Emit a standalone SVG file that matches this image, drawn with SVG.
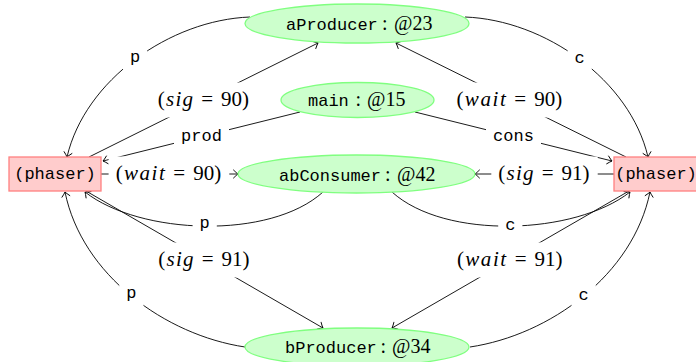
<svg xmlns="http://www.w3.org/2000/svg" width="696" height="362" viewBox="0 0 696 362">
<style>
.ell{fill:#ccffcc;stroke:#80ff80;stroke-width:1.3}
.box{fill:#ffcccc;stroke:#ff8080;stroke-width:1.3}
.tt{font-family:"Liberation Mono","DejaVu Sans Mono",monospace;font-size:17px;fill:#000}
.rm{font-family:"Liberation Serif","DejaVu Serif",serif;font-size:20px;fill:#000}
.lm{font-family:"Liberation Serif","DejaVu Serif",serif;font-size:21px;fill:#000}
.it{font-style:italic}
.e{fill:none;stroke:#000;stroke-width:0.9;marker-end:url(#to)}
.lb{fill:#fff;stroke:none}
</style>
<defs>
<marker id="to" markerUnits="userSpaceOnUse" markerWidth="12" markerHeight="12" refX="0" refY="0" viewBox="-6 -6 12 12" orient="auto" overflow="visible">
<path d="M -4.5,-4 Q -1.5,-1 0,0 Q -1.5,1 -4.5,4" fill="none" stroke="#000" stroke-width="0.9" stroke-linecap="round"/>
</marker>
</defs>
<g id="connectors">
<path class="e" d="M 250,17 C 170,20 85,80 67,157"/>
<path class="e" d="M 465,17 C 545,20 630,80 648,157"/>
<path class="e" d="M 89,157 L 318,43"/>
<path class="e" d="M 626,157 L 396,43"/>
<path class="e" d="M 300,112 L 103,161"/>
<path class="e" d="M 415,112 L 612,161"/>
<path class="e" d="M 101,174 L 238,174"/>
<path class="e" d="M 614,174 L 475,174"/>
<path class="e" d="M 323,192 C 270,240 140,235 85,192"/>
<path class="e" d="M 392,192 C 445,240 575,235 630,192"/>
<path class="e" d="M 86,191 L 323,328"/>
<path class="e" d="M 629,191 L 392,328"/>
<path class="e" d="M 245,347 C 165,335 82,275 65,192"/>
<path class="e" d="M 470,347 C 550,335 633,275 650,192"/>
<g id="edge-labels">
<rect class="lb" x="123" y="46" width="24.2" height="26.7"/>
<text class="tt" x="135.2" y="61.5" text-anchor="middle">p</text>
<rect class="lb" x="567.6" y="48" width="24.2" height="22.4"/>
<text class="tt" x="579.7" y="63.4" text-anchor="middle">c</text>
<rect class="lb" x="151" y="82.5" width="106.4" height="35"/>
<text class="lm" y="105.5"><tspan x="157.8">(</tspan><tspan class="it" x="166" textLength="27" lengthAdjust="spacing">sig</tspan><tspan x="201.2">=</tspan><tspan x="221">90</tspan><tspan x="242">)</tspan></text>
<rect class="lb" x="449.6" y="82.5" width="120.7" height="35"/>
<text class="lm" y="105.5"><tspan x="456.6">(</tspan><tspan class="it" x="464.8" textLength="41" lengthAdjust="spacing">wait</tspan><tspan x="514.3">=</tspan><tspan x="534.2">90</tspan><tspan x="555.2">)</tspan></text>
<rect class="lb" x="174" y="122" width="55" height="30"/>
<text class="tt" x="201.5" y="141" text-anchor="middle">prod</text>
<rect class="lb" x="486" y="126" width="55" height="22.4"/>
<text class="tt" x="513.5" y="141.2" text-anchor="middle">cons</text>
<rect class="lb" x="108.6" y="156.5" width="120.7" height="35"/>
<text class="lm" y="179.5"><tspan x="115.7">(</tspan><tspan class="it" x="123.9" textLength="41" lengthAdjust="spacing">wait</tspan><tspan x="173.3">=</tspan><tspan x="193.2">90</tspan><tspan x="214.2">)</tspan></text>
<rect class="lb" x="491.3" y="156.5" width="106.4" height="35"/>
<text class="lm" y="179.5"><tspan x="498.3">(</tspan><tspan class="it" x="506.5" textLength="27" lengthAdjust="spacing">sig</tspan><tspan x="541.7">=</tspan><tspan x="561.4">91</tspan><tspan x="582.4">)</tspan></text>
<rect class="lb" x="192.6" y="213" width="24.2" height="26.7"/>
<text class="tt" x="204.7" y="228.3" text-anchor="middle">p</text>
<rect class="lb" x="498.2" y="215" width="24.2" height="22.4"/>
<text class="tt" x="510.3" y="230.4" text-anchor="middle">c</text>
<rect class="lb" x="151.3" y="242.5" width="106.4" height="35"/>
<text class="lm" y="265.5"><tspan x="158.3">(</tspan><tspan class="it" x="166.5" textLength="27" lengthAdjust="spacing">sig</tspan><tspan x="201.7">=</tspan><tspan x="221.5">91</tspan><tspan x="242.5">)</tspan></text>
<rect class="lb" x="450" y="242.5" width="120.7" height="35"/>
<text class="lm" y="265.5"><tspan x="457">(</tspan><tspan class="it" x="465.2" textLength="41" lengthAdjust="spacing">wait</tspan><tspan x="514.7">=</tspan><tspan x="534.6">91</tspan><tspan x="555.6">)</tspan></text>
<rect class="lb" x="119.3" y="282.8" width="24.2" height="26.7"/>
<text class="tt" x="131.4" y="298.2" text-anchor="middle">p</text>
<rect class="lb" x="571.5" y="284.9" width="24.2" height="22.4"/>
<text class="tt" x="583.6" y="300.3" text-anchor="middle">c</text>
</g>
</g>
<g id="aProducer">
<ellipse class="ell" cx="357" cy="23.5" rx="112" ry="19.5"/>
<text x="286" y="29.5"><tspan class="tt">aProducer</tspan><tspan class="rm" x="382">:</tspan><tspan class="rm" x="394">@23</tspan></text>
</g>
<g id="main">
<ellipse class="ell" cx="357.5" cy="100" rx="76.5" ry="17.5"/>
<text x="308" y="105.5"><tspan class="tt">main</tspan><tspan class="rm" x="355.5">:</tspan><tspan class="rm" x="367">@15</tspan></text>
</g>
<g id="abConsumer">
<ellipse class="ell" cx="356.5" cy="174" rx="118.5" ry="19"/>
<text x="279" y="180.5"><tspan class="tt">abConsumer</tspan><tspan class="rm" x="385">:</tspan><tspan class="rm" x="397">@42</tspan></text>
</g>
<g id="bProducer">
<ellipse class="ell" cx="357" cy="347" rx="112" ry="19"/>
<text x="285" y="353"><tspan class="tt">bProducer</tspan><tspan class="rm" x="380.5">:</tspan><tspan class="rm" x="392">@34</tspan></text>
</g>
<g id="phaserL">
<rect class="box" x="9" y="157" width="92" height="34"/>
<text class="tt" x="55" y="178.5" text-anchor="middle">(phaser)</text>
</g>
<g id="phaserR">
<rect class="box" x="614" y="157" width="92" height="34"/>
<text class="tt" x="656" y="178.5" text-anchor="middle">(phaser)</text>
</g>
</svg>
